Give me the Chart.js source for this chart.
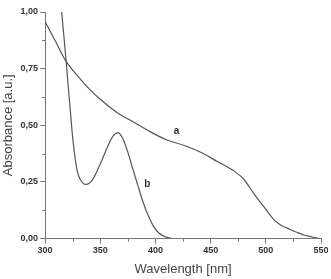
<!DOCTYPE html>
<html>
<head>
<meta charset="utf-8">
<script src="https://cdn.jsdelivr.net/npm/chart.js@4.4.0/dist/chart.umd.min.js"></script>
<style>
  html, body { margin: 0; padding: 0; background: #fff; }
  #wrap { width: 331px; height: 279px; }
</style>
</head>
<body>
<div id="wrap"><canvas id="spectrumChart"></canvas></div>
<script>
// curve a
const waveA = [300, 310, 318, 329, 341, 350, 365, 380, 395, 410, 426, 441, 456, 471, 480, 489, 498, 507, 514, 520, 528, 535, 542, 548];
const absA  = [0.957, 0.865, 0.79, 0.72, 0.655, 0.615, 0.557, 0.515, 0.472, 0.436, 0.411, 0.381, 0.34, 0.299, 0.262, 0.2, 0.142, 0.085, 0.058, 0.045, 0.028, 0.015, 0.007, 0.0];

// curve b
const waveB = [315, 319, 324.5, 326.5, 329, 332, 337, 343, 350, 357, 362, 366, 370, 374, 379, 384, 389, 394, 398.5, 403, 409, 415];
const absB  = [1.0, 0.785, 0.47, 0.38, 0.3, 0.26, 0.239, 0.26, 0.33, 0.41, 0.455, 0.468, 0.445, 0.396, 0.315, 0.235, 0.157, 0.095, 0.052, 0.025, 0.008, 0.0];

const xTicks = [300, 350, 400, 450, 500, 550];
const yTicks = [0, 0.25, 0.5, 0.75, 1.0];
const curveLabels = [
  { text: 'a', x: 419, y: 0.475 },
  { text: 'b', x: 392.5, y: 0.24 }
];

const lineColor = '#555';
const axisColor = '#777';

const toPoints = (xs, ys) => xs.map((x, i) => ({ x: x, y: ys[i] }));

// minor ticks halfway between major ones, plus curve letters
const extrasPlugin = {
  id: 'extras',
  afterDraw(chart) {
    const ctx = chart.ctx;
    const xs = chart.scales.x;
    const ys = chart.scales.y;
    ctx.save();
    ctx.strokeStyle = axisColor;
    ctx.lineWidth = 1;
    for (let i = 0; i < xTicks.length - 1; i++) {
      const px = Math.round(xs.getPixelForValue((xTicks[i] + xTicks[i + 1]) / 2)) + 0.5;
      ctx.beginPath();
      ctx.moveTo(px, ys.bottom);
      ctx.lineTo(px, ys.bottom + 3);
      ctx.stroke();
    }
    for (let i = 0; i < yTicks.length - 1; i++) {
      const py = Math.round(ys.getPixelForValue((yTicks[i] + yTicks[i + 1]) / 2)) + 0.5;
      ctx.beginPath();
      ctx.moveTo(xs.left, py);
      ctx.lineTo(xs.left - 3, py);
      ctx.stroke();
    }
    ctx.fillStyle = '#333';
    ctx.font = 'bold 10px Arial, "Liberation Sans", sans-serif';
    ctx.textAlign = 'center';
    ctx.textBaseline = 'middle';
    curveLabels.forEach(l => {
      ctx.fillText(l.text, xs.getPixelForValue(l.x), ys.getPixelForValue(l.y));
    });
    ctx.restore();
  }
};

const ctx = document.getElementById('spectrumChart').getContext('2d');
const spectrumChart = new Chart(ctx, {
  type: 'line',
  data: {
    datasets: [{
      label: 'a',
      data: toPoints(waveA, absA),
      borderColor: lineColor,
      borderWidth: 1.2,
      pointRadius: 0,
      cubicInterpolationMode: 'monotone',
      fill: false
    }, {
      label: 'b',
      data: toPoints(waveB, absB),
      borderColor: lineColor,
      borderWidth: 1.2,
      pointRadius: 0,
      cubicInterpolationMode: 'monotone',
      fill: false
    }]
  },
  options: {
    responsive: true,
    maintainAspectRatio: false,
    animation: false,
    layout: { padding: { top: 12, right: 10, left: 1, bottom: 0 } },
    plugins: {
      legend: { display: false },
      tooltip: { enabled: false }
    },
    scales: {
      x: {
        type: 'linear',
        min: 300,
        max: 550,
        afterBuildTicks: scale => { scale.ticks = xTicks.map(v => ({ value: v })); },
        grid: { drawOnChartArea: false, drawTicks: true, tickLength: 5, color: axisColor },
        border: { color: axisColor, width: 1 },
        ticks: {
          color: '#333',
          font: { family: 'Arial, "Liberation Sans", sans-serif', size: 9, weight: 'bold' },
          padding: 2,
          maxRotation: 0
        },
        title: {
          display: true,
          text: 'Wavelength [nm]',
          color: '#444',
          font: { family: 'Arial, "Liberation Sans", sans-serif', size: 13 },
          padding: { top: 3, bottom: 2 }
        }
      },
      y: {
        type: 'linear',
        min: 0,
        max: 1,
        afterBuildTicks: scale => { scale.ticks = yTicks.map(v => ({ value: v })); },
        grid: { drawOnChartArea: false, drawTicks: true, tickLength: 5, color: axisColor },
        border: { color: axisColor, width: 1 },
        ticks: {
          color: '#333',
          font: { family: 'Arial, "Liberation Sans", sans-serif', size: 9, weight: 'bold' },
          padding: 2,
          callback: v => v.toFixed(2).replace('.', ',')
        },
        title: {
          display: true,
          text: 'Absorbance [a.u.]',
          color: '#444',
          font: { family: 'Arial, "Liberation Sans", sans-serif', size: 13 },
          padding: { top: 0, bottom: 2 }
        }
      }
    }
  },
  plugins: [extrasPlugin]
});
</script>
</body>
</html>
